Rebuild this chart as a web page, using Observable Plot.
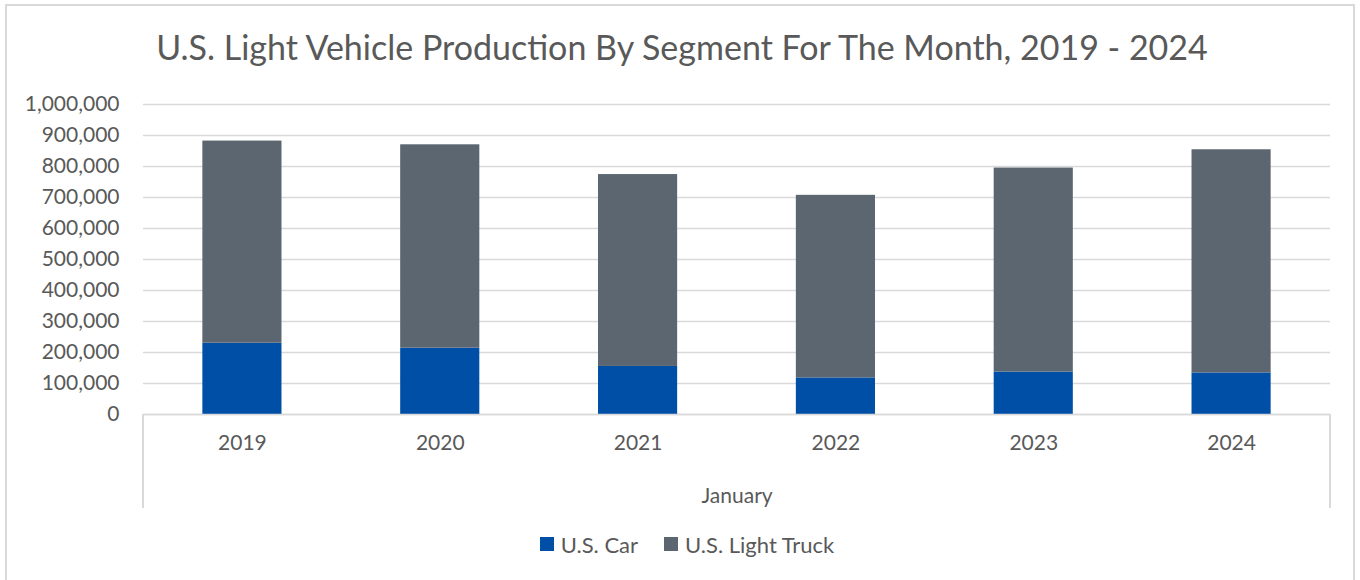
<!DOCTYPE html>
<html>
<head>
<meta charset="utf-8">
<script src="https://cdn.jsdelivr.net/npm/d3@7"></script>
<script src="https://cdn.jsdelivr.net/npm/@observablehq/plot@0.6"></script>
<style>
  html, body { margin: 0; padding: 0; background: #fff; }
  #wrap { position: relative; width: 1360px; height: 580px; overflow: hidden; font-family: Lato, "Open Sans", sans-serif; color: #595959; }
  #frame { position: absolute; left: 5px; top: 4px; width: 1350px; height: 600px; border: 2px solid #d9d9d9; box-sizing: border-box; pointer-events: none; }
  #title { height: 90px; line-height: 94px; text-align: center; font-size: 34px; color: #595959; white-space: nowrap; padding-left: 4px; }
  #chart svg { display: block; }
  #legend { height: 48px; display: flex; align-items: center; justify-content: center; font-size: 22px; color: #595959; gap: 26px; padding-left: 14px; }
  .item { display: flex; align-items: center; gap: 7px; }
  .sw { width: 14px; height: 14px; display: inline-block; }
</style>
</head>
<body>
<div id="wrap">
  <div id="frame"></div>
  <div id="title"></div>
  <div id="chart"></div>
  <div id="legend"></div>
</div>
<script>
const title = "U.S. Light Vehicle Production By Segment For The Month, 2019 - 2024";
const years = ["2019", "2020", "2021", "2022", "2023", "2024"];
const carValues = [230000, 214000, 155000, 118000, 137000, 134000];
const truckValues = [652000, 656000, 619000, 589000, 658000, 720000];
const seriesNames = ["U.S. Car", "U.S. Light Truck"];
const seriesColors = ["#004fa6", "#5b6670"];
const yTickValues = [0, 100000, 200000, 300000, 400000, 500000, 600000, 700000, 800000, 900000, 1000000];
const xAxisLabel = "January";

const rows = [];
years.forEach((yr, i) => {
  rows.push({year: yr, segment: seriesNames[0], value: carValues[i]});
  rows.push({year: yr, segment: seriesNames[1], value: truckValues[i]});
});

document.getElementById("title").textContent = title;

function categoryBox(index, scales, values, dims) {
  const g = d3.create("svg:g");
  const x0 = dims.marginLeft, x1 = dims.width - dims.marginRight;
  const y0 = dims.height - dims.marginBottom, y1 = dims.height - 12;
  g.append("path")
    .attr("d", `M${x0},${y0}V${y1}M${x1},${y0}V${y1}`)
    .attr("stroke", "#d9d9d9").attr("stroke-width", 2).attr("fill", "none");
  return g.node();
}

const plot = Plot.plot({
  width: 1360,
  height: 430,
  marginTop: 14,
  marginBottom: 106,
  marginLeft: 143,
  marginRight: 30,
  style: {fontFamily: "Lato, 'Open Sans', sans-serif", fontSize: "21px", color: "#595959", background: "transparent"},
  x: {type: "band", domain: years, paddingInner: 0.6, paddingOuter: 0.3, align: 0.5, round: false, label: null},
  y: {domain: [0, 1000000], label: null},
  color: {domain: seriesNames, range: seriesColors},
  marks: [
    Plot.gridY(yTickValues, {stroke: "#d9d9d9", strokeOpacity: 1, strokeWidth: 1.5}),
    Plot.barY(rows, Plot.stackY({x: "year", y: "value", fill: "segment", order: seriesNames})),
    Plot.ruleY([0], {stroke: "#d9d9d9", strokeWidth: 1.5}),
    categoryBox,
    Plot.axisY(yTickValues, {tickSize: 0, tickPadding: 24, tickFormat: d3.format(","), fill: "#595959", label: null}),
    Plot.axisX({tickSize: 0, tickPadding: 21, fill: "#595959", label: xAxisLabel, labelAnchor: "center", labelOffset: 88, labelArrow: "none"})
  ]
});
document.getElementById("chart").appendChild(plot);

const legend = document.getElementById("legend");
seriesNames.forEach((name, i) => {
  const item = document.createElement("div");
  item.className = "item";
  const sw = document.createElement("span");
  sw.className = "sw";
  sw.style.background = seriesColors[i];
  const t = document.createElement("span");
  t.textContent = name;
  item.appendChild(sw);
  item.appendChild(t);
  legend.appendChild(item);
});
</script>
</body>
</html>
